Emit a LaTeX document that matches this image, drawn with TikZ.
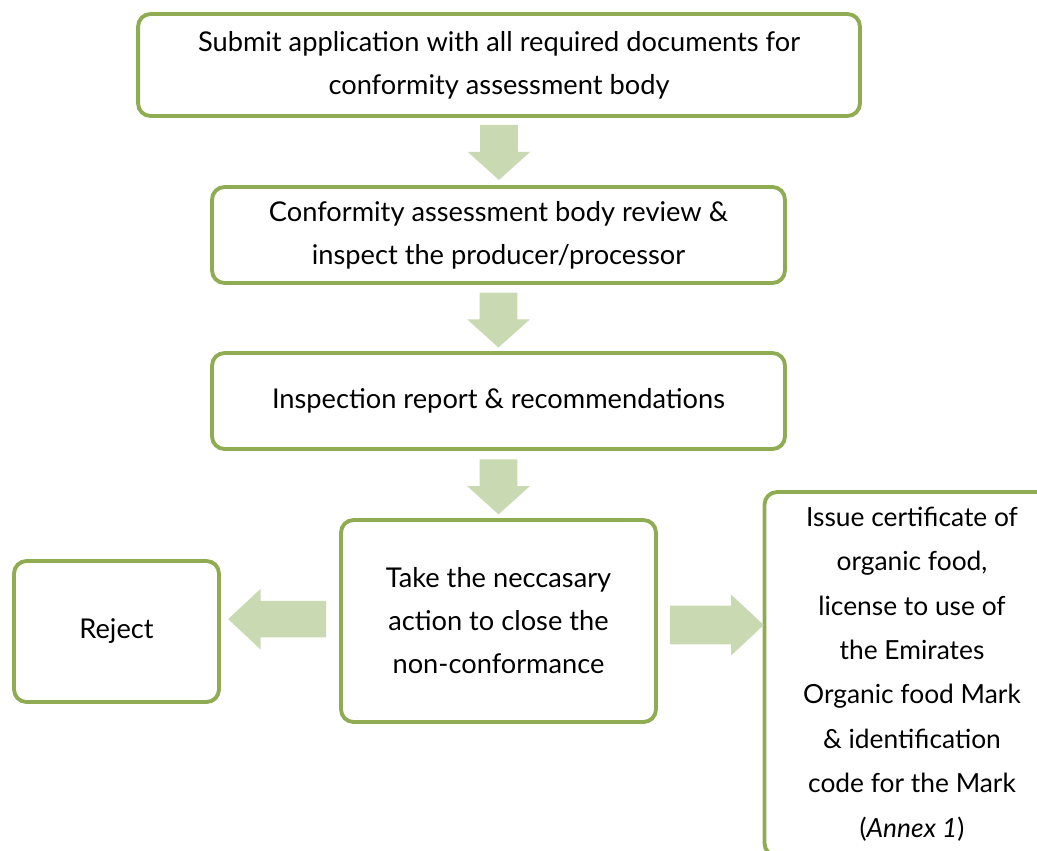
\documentclass[tikz,border=0pt]{standalone}
\usepackage{fontspec}
\setmainfont{Lato}
\usetikzlibrary{shapes.arrows,calc}
\definecolor{boxgreen}{RGB}{143,172,82}
\definecolor{arrowgreen}{RGB}{201,217,178}
\tikzset{
	stepbox/.style={draw=boxgreen, line width=2.2pt, rounded corners=0.25cm, fill=white, align=center, inner sep=0pt, font=\fontsize{15.5}{24.5}\selectfont},
	blockarrow/.style={single arrow, fill=arrowgreen, draw=none, inner sep=0pt, inner ysep=0.37cm, single arrow head extend=0.25cm, single arrow tip angle=96, minimum height=1.1cm, anchor=tail}
}

\begin{document}
\begin{tikzpicture}[x=0.02cm, y=-0.02cm]
	\clip (0,0) rectangle (1037,851);
	\node[stepbox, minimum width=14.44cm, minimum height=2.04cm] (submit) at (499,65) {Submit application with all required documents for\\conformity assessment body};
	\node[stepbox, minimum width=11.46cm, minimum height=1.92cm] (review) at (498.5,235) {Conformity assessment body review \&\\inspect the producer/processor};
	\node[stepbox, minimum width=11.46cm, minimum height=1.92cm] (report) at (498.5,401) {Inspection report \& recommendations};
	\node[stepbox, minimum width=6.3cm, minimum height=4.04cm] (action) at (498.5,621) {Take the neccasary\\action to close the\\non-conformance};
	\node[stepbox, minimum width=4.1cm, minimum height=2.82cm] (reject) at (116.5,631.5) {Reject};
	\node[stepbox, minimum width=5.9cm, minimum height=7.28cm, font=\fontsize{15}{25.3}\selectfont] (issue) at (912,674) {Issue certificate of\\organic food,\\license to use of\\the Emirates\\Organic food Mark\\\& identification\\code for the Mark\\(\textit{Annex 1})};
	\node[blockarrow, rotate=-90] (down1) at ($(submit.south)!0.1!(review.north)$) {};
	\node[blockarrow, rotate=-90] (down2) at ($(review.south)!0.11!(report.north)$) {};
	\node[blockarrow, rotate=-90] (down3) at ($(report.south)!0.12!(action.north)$) {};
	\node[blockarrow, rotate=180, minimum height=1.96cm, inner ysep=0.36cm, single arrow head extend=0.24cm, single arrow tip angle=86, yshift=-0.06cm] (toreject) at ($(action.west)!0.107!(reject.east)$) {};
	\node[blockarrow, minimum height=1.88cm, inner ysep=0.38cm, single arrow head extend=0.22cm, single arrow tip angle=86, yshift=-0.08cm] (toissue) at ($(action.east)!0.11!(action.east -| issue.west)$) {};
\end{tikzpicture}
\end{document}
